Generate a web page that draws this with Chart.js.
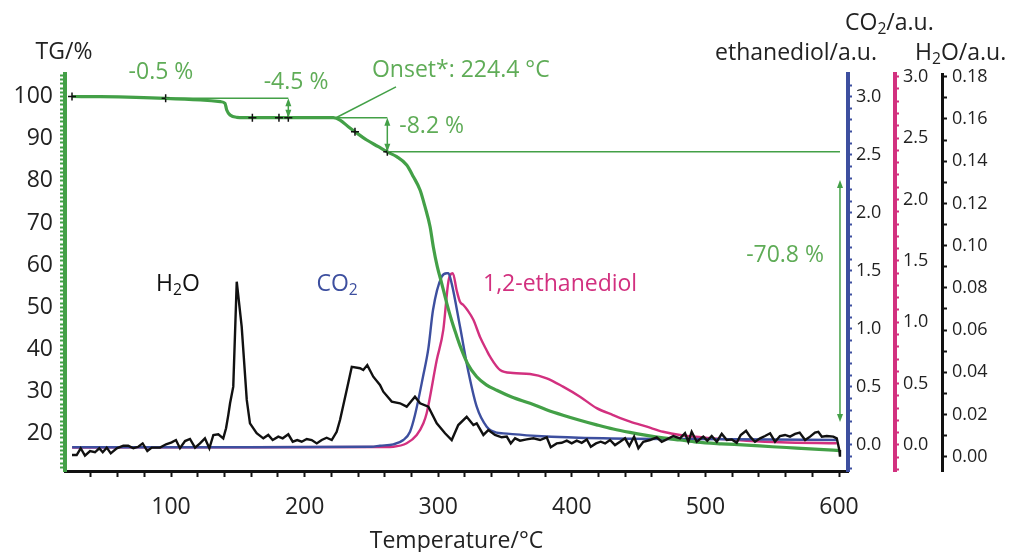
<!DOCTYPE html>
<html>
<head>
<meta charset="utf-8">
<script src="https://cdn.jsdelivr.net/npm/chart.js@4.4.1/dist/chart.umd.min.js"></script>
<style>
  html, body { margin: 0; padding: 0; background: #fff; }
  #caixa { width: 1010px; height: 552px; }
</style>
</head>
<body>
<div id="caixa"><canvas id="grafico" width="1010" height="552"></canvas></div>
<script>
// Curva TG (%) x temperatura (°C)
const tgTemp = [26, 47, 96, 122, 137, 140.4, 141.7, 144.2, 149.2, 161, 197, 221.5, 226.5, 232.7, 237.7, 246.5, 255.2, 261.5, 268.9, 276.4,
  281.4, 286.4, 290.1, 293.9, 296.3, 299.3, 302.6, 306.4, 310.1, 313.8, 316.3, 322, 328.8, 336, 343.8, 355, 368.7, 381, 393.4, 406,
  418.6, 431, 443.4, 456, 468.3, 481, 493.5, 512, 530.9, 550, 568.3, 585, 600.7];
const tgValor = [100, 99.95, 99.57, 99.17, 98.77, 98.39, 96.8, 95.61, 95.07, 94.97, 94.97, 94.97, 94.42, 92.83, 91.65, 89.68, 88.09, 86.9, 85.72, 83.75,
  80.97, 77.82, 73.86, 69.11, 64.37, 59.62, 55.68, 50.94, 46.8, 43.2, 40.9, 36.6, 33.5, 31.6, 30.3, 28.7, 27.2, 25.7, 24.4, 23.2,
  22.1, 21.1, 20.3, 19.6, 19.0, 18.5, 18.0, 17.6, 17.3, 16.9, 16.6, 16.3, 16.0];

// CO2 (u.a.)
const co2Temp = [26, 150, 250, 256.4, 266.4, 273.9, 278.9, 282.6, 288.6, 292.6, 296.1, 302.6, 306.4, 307.6, 310.1, 316.3, 322.3, 328.8, 336.3, 343.8,
  348.7, 373.7, 423.6, 523.4, 598.3];
const co2Valor = [-0.02, -0.02, -0.015, -0.006, 0.006, 0.043, 0.115, 0.258, 0.588, 0.83, 1.163, 1.45, 1.48, 1.48, 1.39, 1.02, 0.646, 0.33, 0.158, 0.106,
  0.1, 0.078, 0.058, 0.05, 0.043];

// 1,2-etanodiol (u.a.)
const diolTemp = [26, 150, 260, 266.4, 276.4, 283.9, 288.9, 291.4, 298.9, 303.8, 307.6, 310.9, 313.8, 316.3, 318.8, 321.8, 326.3, 331.3, 336.3, 338.8,
  346.3, 356, 368.7, 381.2, 393.4, 406.1, 418.6, 430.8, 443.6, 456.1, 468.3, 481, 505.7, 530.9, 556, 598.3];
const diolValor = [-0.02, -0.018, -0.016, -0.014, 0.014, 0.081, 0.177, 0.26, 0.692, 0.937, 1.33, 1.40, 1.26, 1.166, 1.14, 1.1, 1.02, 0.88, 0.77, 0.719,
  0.611, 0.586, 0.578, 0.543, 0.475, 0.393, 0.3, 0.244, 0.19, 0.149, 0.108, 0.081, 0.054, 0.035, 0.022, 0.014];

// H2O (u.a.)
const h2oTemp = [25.9, 29.4, 32.4, 35.6, 39.4, 43.1, 46.3, 48.9, 51.9, 54.9, 59.4, 64.3, 68.0, 71.8, 75.5, 78.8, 82.3, 85.6, 91.8, 96.3,
  100.5, 103.7, 106.7, 110.5, 114.2, 118.0, 121.7, 125.4, 128.7, 131.7, 135.4, 139.1, 141.2, 142.9, 144.2, 146.6, 149.2, 152.9, 156.7, 159.1,
  164.1, 169.1, 172.8, 176.1, 180.3, 183.6, 187.8, 191.1, 194.5, 197.8, 201.6, 205.3, 209.1, 212.8, 216.5, 220.3, 224.0, 226.5, 231.5, 235.3,
  241.5, 243.9, 246.9, 251.4, 256.4, 258.9, 265.2, 271.4, 276.4, 282.6, 286.4, 292.6, 298.9, 305.1, 310.1, 315.0, 321.3, 326.3, 328.8, 333.8,
  337.5, 342.5, 347.5, 351.3, 354.3, 357.5, 361.2, 366.2, 371.2, 376.2, 381.2, 384.2, 388.7, 392.4, 396.2, 399.9, 403.7, 407.4, 411.2, 414.2,
  418.1, 421.6, 424.9, 428.6, 432.3, 436.1, 439.8, 443.0, 446.6, 449.8, 453.5, 458.5, 463.5, 467.3, 471.0, 476.0, 481.0, 484.7, 487.2, 489.7,
  493.5, 498.4, 501.4, 504.7, 508.5, 512.2, 516.0, 519.7, 523.4, 526.4, 530.4, 533.4, 537.1, 540.9, 544.6, 548.4, 552.1, 555.8, 559.6, 563.3,
  567.1, 570.5, 574.6, 578.3, 582.0, 584.5, 587.1, 590.8, 595.7, 598.3, 600.2, 600.7];
const h2oValor = [0.0008, 0.0008, 0.0040, 0.0005, 0.0027, 0.0021, 0.0040, 0.0021, 0.0043, 0.0016, 0.0040, 0.0052, 0.0052, 0.0040, 0.0047, 0.0063, 0.0027, 0.0043, 0.0043, 0.0059,
  0.0068, 0.0079, 0.0040, 0.0074, 0.0084, 0.0043, 0.0063, 0.0087, 0.0040, 0.0103, 0.0106, 0.0087, 0.0135, 0.0198, 0.0253, 0.0332, 0.0829, 0.0616, 0.0269, 0.0158,
  0.0111, 0.0087, 0.0103, 0.0079, 0.0095, 0.0087, 0.0106, 0.0071, 0.0079, 0.0071, 0.0084, 0.0079, 0.0063, 0.0079, 0.0090, 0.0079, 0.0118, 0.0174, 0.0316, 0.0426,
  0.0419, 0.0411, 0.0434, 0.0379, 0.0340, 0.0308, 0.0261, 0.0253, 0.0237, 0.0284, 0.0253, 0.0237, 0.0158, 0.0111, 0.0079, 0.0150, 0.0189, 0.0150, 0.0158, 0.0103,
  0.0126, 0.0103, 0.0092, 0.0095, 0.0063, 0.0087, 0.0076, 0.0082, 0.0087, 0.0079, 0.0092, 0.0045, 0.0063, 0.0066, 0.0076, 0.0063, 0.0076, 0.0066, 0.0082, 0.0047,
  0.0063, 0.0071, 0.0063, 0.0079, 0.0055, 0.0071, 0.0087, 0.0051, 0.0095, 0.0040, 0.0071, 0.0079, 0.0092, 0.0071, 0.0082, 0.0098, 0.0087, 0.0111, 0.0071, 0.0118,
  0.0071, 0.0095, 0.0076, 0.0098, 0.0071, 0.0108, 0.0079, 0.0082, 0.0066, 0.0103, 0.0123, 0.0095, 0.0071, 0.0087, 0.0098, 0.0111, 0.0071, 0.0098, 0.0103, 0.0095,
  0.0108, 0.0114, 0.0079, 0.0095, 0.0114, 0.0118, 0.0095, 0.0098, 0.0095, 0.0087, 0.0032, 0.0000];

// Marcadores "+" sobre a curva TG
const marcaTemp = [25.9, 96.0, 160.9, 180.8, 187.8, 237.7, 261.9];
const marcaTG = [100, 99.57, 94.97, 94.97, 94.97, 91.65, 86.9];

// Linhas auxiliares (tangentes) e setas de perda de massa: [T1, TG1, T2, TG2] / [T, TG1, TG2]
const linhasAux = [[96, 99.57, 187.8, 99.57], [223.5, 94.97, 261.9, 94.97], [261.9, 86.9, 600.7, 86.9], [223.5, 94.97, 268.4, 102.3]];
const setasPerda = [[187.8, 99.57, 94.97], [261.9, 94.97, 86.9], [600.7, 80.2, 22.8]];

const fonte = "'Open Sans', sans-serif";
const verde = "#43a047";
const verdeTexto = "#5fac57";
const azul = "#3d4f9f";
const magenta = "#d2307f";

Chart.defaults.font.family = fonte;
Chart.defaults.color = "#222";

const pontos = (ts, vs) => ts.map((t, i) => ({ x: t, y: vs[i] }));

function marcas(inicio, fim, passo) {
  const lista = [];
  for (let i = Math.round(inicio / passo); i <= Math.round(fim / passo); i++) {
    lista.push({ value: +(i * passo).toFixed(4) });
  }
  return lista;
}

function ehMultiplo(v, passo) {
  const r = v / passo;
  return Math.abs(r - Math.round(r)) < 1e-6;
}

function eixoY(c) {
  return {
    type: "linear",
    position: c.lado,
    min: c.min,
    max: c.max,
    border: { color: c.cor, width: c.borda },
    grid: { drawOnChartArea: false, drawTicks: true, tickLength: c.tick, tickWidth: 2, tickColor: c.cor },
    ticks: {
      autoSkip: false,
      padding: c.pad,
      color: "#222",
      font: { size: c.fonte },
      callback: v => ehMultiplo(v, c.passoRotulo) ? v.toFixed(c.casas) : ""
    },
    afterBuildTicks: s => { s.ticks = marcas(c.inicio, c.fim, c.passo); },
    afterFit: s => { s.width = c.largura; s.paddingTop = 0; s.paddingBottom = 0; }
  };
}

// Texto com índice (CO2, H2O)
function escrever(ctx, partes, x, y, tam, alinhar) {
  let largura = 0;
  partes.forEach(([t, sub]) => {
    ctx.font = (sub ? tam * 0.68 : tam) + "px " + fonte;
    largura += ctx.measureText(t).width;
  });
  let cx = alinhar === "center" ? x - largura / 2 : alinhar === "right" ? x - largura : x;
  ctx.textAlign = "left";
  ctx.textBaseline = "middle";
  partes.forEach(([t, sub]) => {
    ctx.font = (sub ? tam * 0.68 : tam) + "px " + fonte;
    ctx.fillText(t, cx, sub ? y + tam * 0.28 : y);
    cx += ctx.measureText(t).width;
  });
}

function setaDupla(ctx, px, y1, y2) {
  const topo = Math.min(y1, y2), base = Math.max(y1, y2);
  ctx.beginPath();
  ctx.moveTo(px, topo + 3);
  ctx.lineTo(px, base - 3);
  ctx.stroke();
  [[topo, 1], [base, -1]].forEach(([y, d]) => {
    ctx.beginPath();
    ctx.moveTo(px, y);
    ctx.lineTo(px - 3, y + d * 8);
    ctx.lineTo(px + 3, y + d * 8);
    ctx.closePath();
    ctx.fill();
  });
}

const pluginAnotacoes = {
  id: "anotacoes",
  afterDatasetsDraw(chart) {
    const { ctx, scales: { x, yTG } } = chart;
    const px = t => x.getPixelForValue(t);
    const py = v => yTG.getPixelForValue(v);
    ctx.save();
    ctx.strokeStyle = verde;
    ctx.fillStyle = verde;
    ctx.lineWidth = 1.5;
    linhasAux.forEach(([t1, v1, t2, v2]) => {
      ctx.beginPath();
      ctx.moveTo(px(t1), py(v1));
      ctx.lineTo(px(t2), py(v2));
      ctx.stroke();
    });
    setasPerda.forEach(([t, v1, v2]) => setaDupla(ctx, px(t), py(v1), py(v2)));

    // rótulos dentro do gráfico
    ctx.fillStyle = verdeTexto;
    escrever(ctx, [["-0.5 %", 0]], px(92.5), py(105.6), 23, "center");
    escrever(ctx, [["-4.5 %", 0]], px(193.6), py(103.4), 23, "center");
    escrever(ctx, [["Onset*: 224.4 °C", 0]], px(250.4), py(106.3), 23, "left");
    escrever(ctx, [["-8.2 %", 0]], px(295.1), py(93.0), 23, "center");
    escrever(ctx, [["-70.8 %", 0]], px(559.6), py(62.2), 23, "center");
    ctx.fillStyle = "#111";
    escrever(ctx, [["H", 0], ["2", 1], ["O", 0]], px(105.2), py(55.5), 23, "center");
    ctx.fillStyle = azul;
    escrever(ctx, [["CO", 0], ["2", 1]], px(224.3), py(55.5), 23, "center");
    ctx.fillStyle = magenta;
    escrever(ctx, [["1,2-ethanediol", 0]], px(391.2), py(55.5), 23, "center");
    ctx.restore();
  },
  afterDraw(chart) {
    const ctx = chart.ctx;
    ctx.save();
    ctx.fillStyle = "#222";
    escrever(ctx, [["TG/%", 0]], 64, 52, 23, "center");
    escrever(ctx, [["CO", 0], ["2", 1], ["/a.u.", 0]], 845, 23, 23, "left");
    escrever(ctx, [["ethanediol/a.u.", 0]], 877, 53, 23, "right");
    escrever(ctx, [["H", 0], ["2", 1], ["O/a.u.", 0]], 915, 53, 23, "left");
    ctx.restore();
  }
};

new Chart(document.getElementById("grafico"), {
  type: "line",
  data: {
    datasets: [
      {
        label: "marcas", data: pontos(marcaTemp, marcaTG), yAxisID: "yTG", showLine: false,
        pointStyle: "cross", pointRadius: 4, borderColor: "#111", borderWidth: 1.5
      },
      {
        label: "H2O", data: pontos(h2oTemp, h2oValor), yAxisID: "yH2O",
        borderColor: "#111", borderWidth: 2.4, pointRadius: 0, tension: 0
      },
      {
        label: "TG", data: pontos(tgTemp, tgValor), yAxisID: "yTG",
        borderColor: verde, borderWidth: 3.2, pointRadius: 0, cubicInterpolationMode: "monotone"
      },
      {
        label: "CO2", data: pontos(co2Temp, co2Valor), yAxisID: "yCO2",
        borderColor: azul, borderWidth: 2.4, pointRadius: 0, cubicInterpolationMode: "monotone"
      },
      {
        label: "1,2-ethanediol", data: pontos(diolTemp, diolValor), yAxisID: "yDiol",
        borderColor: magenta, borderWidth: 2.4, pointRadius: 0, cubicInterpolationMode: "monotone"
      }
    ]
  },
  options: {
    responsive: false,
    animation: false,
    layout: { padding: { top: 74, left: 0, right: 0, bottom: 0 } },
    plugins: { legend: { display: false }, tooltip: { enabled: false } },
    scales: {
      x: {
        type: "linear",
        position: "bottom",
        min: 20.66,
        max: 606.7,
        border: { color: "#111", width: 3 },
        grid: { drawOnChartArea: false, drawTicks: true, tickLength: 6, tickWidth: 2, tickColor: "#111" },
        ticks: {
          autoSkip: false, maxRotation: 0, padding: 17, color: "#222", font: { size: 23 },
          callback: v => ehMultiplo(v, 100) ? String(v) : ""
        },
        title: { display: true, text: "Temperature/°C", color: "#222", font: { size: 23 }, padding: { top: 0, bottom: -3 } },
        afterBuildTicks: s => { s.ticks = marcas(40, 600, 20); },
        afterFit: s => { s.height = 81; s.paddingLeft = 0; s.paddingRight = 0; }
      },
      yTG: eixoY({ lado: "left", cor: verde, min: 11.15, max: 105.34, inicio: 12, fim: 105, passo: 1, passoRotulo: 10,
        casas: 0, largura: 65, borda: 4, tick: 5, pad: 7, fonte: 23 }),
      yCO2: eixoY({ lado: "right", cor: azul, min: -0.224, max: 3.196, inicio: -0.2, fim: 3.1, passo: 0.1, passoRotulo: 0.5,
        casas: 1, largura: 47, borda: 4, tick: 4, pad: 4, fonte: 18 }),
      yDiol: eixoY({ lado: "right", cor: magenta, min: -0.212, max: 3.022, inicio: -0.2, fim: 3.0, passo: 0.1, passoRotulo: 0.5,
        casas: 1, largura: 47, borda: 4, tick: 4, pad: 4, fonte: 18 }),
      yH2O: eixoY({ lado: "right", cor: "#111", min: -0.00677, max: 0.1813, inicio: 0, fim: 0.18, passo: 0.01, passoRotulo: 0.02,
        casas: 2, largura: 68, borda: 3, tick: 5, pad: 5, fonte: 18 })
    }
  },
  plugins: [pluginAnotacoes]
});
</script>
</body>
</html>
